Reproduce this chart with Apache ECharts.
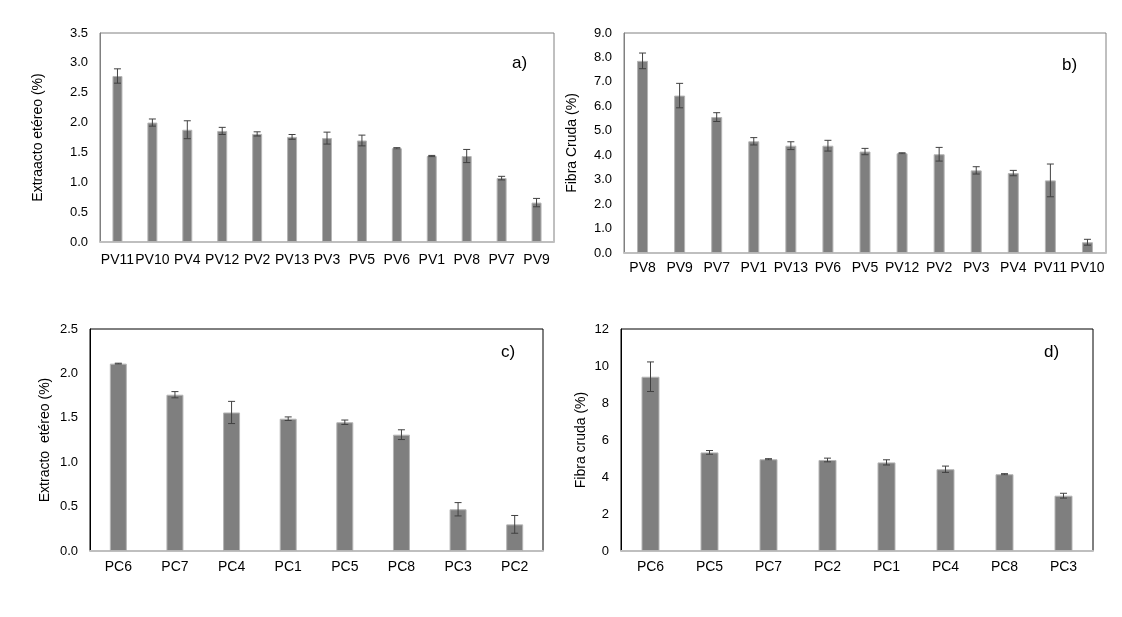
<!DOCTYPE html>
<html>
<head>
<meta charset="utf-8">
<script src="https://cdn.jsdelivr.net/npm/echarts@6/dist/echarts.min.js"></script>
<style>
  html, body { margin: 0; padding: 0; background: #fff; }
  #chart { width: 1122px; height: 617px; }
</style>
</head>
<body>
<div id="chart"></div>
<script>
// a) Extracto etéreo, PV
const catsA = ['PV11', 'PV10', 'PV4', 'PV12', 'PV2', 'PV13', 'PV3', 'PV5', 'PV6', 'PV1', 'PV8', 'PV7', 'PV9'];
const valsA = [2.78, 2.00, 1.88, 1.86, 1.81, 1.76, 1.74, 1.70, 1.57, 1.44, 1.44, 1.07, 0.66];
const errA = [0.12, 0.06, 0.15, 0.06, 0.035, 0.04, 0.10, 0.09, 0.01, 0.01, 0.11, 0.03, 0.07];

// b) Fibra cruda, PV
const catsB = ['PV8', 'PV9', 'PV7', 'PV1', 'PV13', 'PV6', 'PV5', 'PV12', 'PV2', 'PV3', 'PV4', 'PV11', 'PV10'];
const valsB = [7.86, 6.44, 5.56, 4.57, 4.39, 4.39, 4.15, 4.08, 4.04, 3.38, 3.27, 2.97, 0.44];
const errB = [0.32, 0.50, 0.18, 0.15, 0.16, 0.22, 0.13, 0.02, 0.28, 0.15, 0.11, 0.67, 0.12];

// c) Extracto etéreo, PC
const catsC = ['PC6', 'PC7', 'PC4', 'PC1', 'PC5', 'PC8', 'PC3', 'PC2'];
const valsC = [2.11, 1.76, 1.56, 1.49, 1.45, 1.31, 0.47, 0.30];
const errC = [0.005, 0.035, 0.125, 0.02, 0.025, 0.055, 0.075, 0.10];

// d) Fibra cruda, PC
const catsD = ['PC6', 'PC5', 'PC7', 'PC2', 'PC1', 'PC4', 'PC8', 'PC3'];
const valsD = [9.42, 5.33, 4.96, 4.92, 4.79, 4.42, 4.15, 2.99];
const errD = [0.80, 0.10, 0.03, 0.10, 0.14, 0.17, 0.03, 0.13];

const FONT = '"Liberation Sans", Arial, sans-serif';
const BAR_COLOR = '#7f7f7f';

const panels = [
  { cats: catsA, vals: valsA, errs: errA, tag: 'a)', yName: 'Extraacto etéreo (%)',
    grid: { left: 100, top: 33, width: 454, height: 209 }, border: '#808080',
    max: 3.5, interval: 0.5, digits: 1, nameGap: 55, barWidth: 10, labelMargin: 11,
    tagPos: { left: 512, top: 55 } },
  { cats: catsB, vals: valsB, errs: errB, tag: 'b)', yName: 'Fibra Cruda (%)',
    grid: { left: 624, top: 33, width: 482, height: 220 }, border: '#808080',
    max: 9, interval: 1, digits: 1, nameGap: 45, barWidth: 11, labelMargin: 8,
    tagPos: { left: 1062, top: 57 } },
  { cats: catsC, vals: valsC, errs: errC, tag: 'c)', yName: 'Extracto  etéreo (%)',
    grid: { left: 90, top: 329, width: 453, height: 222 }, border: '#000000',
    max: 2.5, interval: 0.5, digits: 1, nameGap: 38, barWidth: 17, labelMargin: 9,
    tagPos: { left: 501, top: 344 } },
  { cats: catsD, vals: valsD, errs: errD, tag: 'd)', yName: 'Fibra cruda (%)',
    grid: { left: 621, top: 329, width: 472, height: 222 }, border: '#000000',
    max: 12, interval: 2, digits: 0, nameGap: 33, barWidth: 18, labelMargin: 9,
    tagPos: { left: 1044, top: 344 } },
];

function errorBarRenderer(color) {
  return (params, api) => {
    const idx = api.value(0);
    const val = api.value(1);
    const err = api.value(2);
    const top = api.coord([idx, val + err]);
    const bottom = api.coord([idx, val - err]);
    const cap = 3.5;
    const style = { stroke: color, lineWidth: 1 };
    return {
      type: 'group',
      children: [
        { type: 'line', shape: { x1: top[0], y1: top[1], x2: bottom[0], y2: bottom[1] }, style },
        { type: 'line', shape: { x1: top[0] - cap, y1: top[1], x2: top[0] + cap, y2: top[1] }, style },
        { type: 'line', shape: { x1: bottom[0] - cap, y1: bottom[1], x2: bottom[0] + cap, y2: bottom[1] }, style },
      ],
    };
  };
}

const chart = echarts.init(document.getElementById('chart'));

chart.setOption({
  animation: false,
  textStyle: { fontFamily: FONT },
  title: panels.map((p) => ({
    text: p.tag,
    left: p.tagPos.left,
    top: p.tagPos.top,
    padding: 0,
    textStyle: { fontFamily: FONT, fontSize: 17, fontWeight: 'normal', color: '#000' },
  })),
  grid: panels.map((p) => ({
    ...p.grid,
    show: true,
    borderColor: p.border,
    borderWidth: 1,
    backgroundColor: 'transparent',
    outerBoundsMode: 'none',
  })),
  xAxis: panels.map((p, i) => ({
    type: 'category',
    gridIndex: i,
    data: p.cats,
    axisTick: { show: false },
    axisLine: { lineStyle: { color: '#bfbfbf', width: 2 } },
    axisLabel: { interval: 0, margin: p.labelMargin, color: '#000', fontSize: 14, fontFamily: FONT },
  })),
  yAxis: panels.map((p, i) => ({
    type: 'value',
    gridIndex: i,
    min: 0,
    max: p.max,
    interval: p.interval,
    name: p.yName,
    nameLocation: 'middle',
    nameGap: p.nameGap,
    nameTextStyle: { fontFamily: FONT, fontSize: 14, color: '#000' },
    axisLine: { show: true, lineStyle: { color: p.border, width: 1 } },
    axisTick: { show: false },
    splitLine: { show: false },
    axisLabel: {
      margin: 12,
      color: '#000',
      fontSize: 13,
      fontFamily: FONT,
      formatter: (v) => v.toFixed(p.digits),
    },
  })),
  series: panels.flatMap((p, i) => ([
    {
      type: 'bar',
      xAxisIndex: i,
      yAxisIndex: i,
      data: p.vals,
      barWidth: p.barWidth,
      itemStyle: { color: BAR_COLOR, borderColor: '#b5b5b5', borderWidth: 1 },
      z: 2,
    },
    {
      type: 'custom',
      xAxisIndex: i,
      yAxisIndex: i,
      data: p.cats.map((c, k) => [k, p.vals[k], p.errs[k]]),
      encode: { x: 0, y: 1 },
      renderItem: errorBarRenderer('#404040'),
      z: 3,
    },
  ])),
});
</script>
</body>
</html>
